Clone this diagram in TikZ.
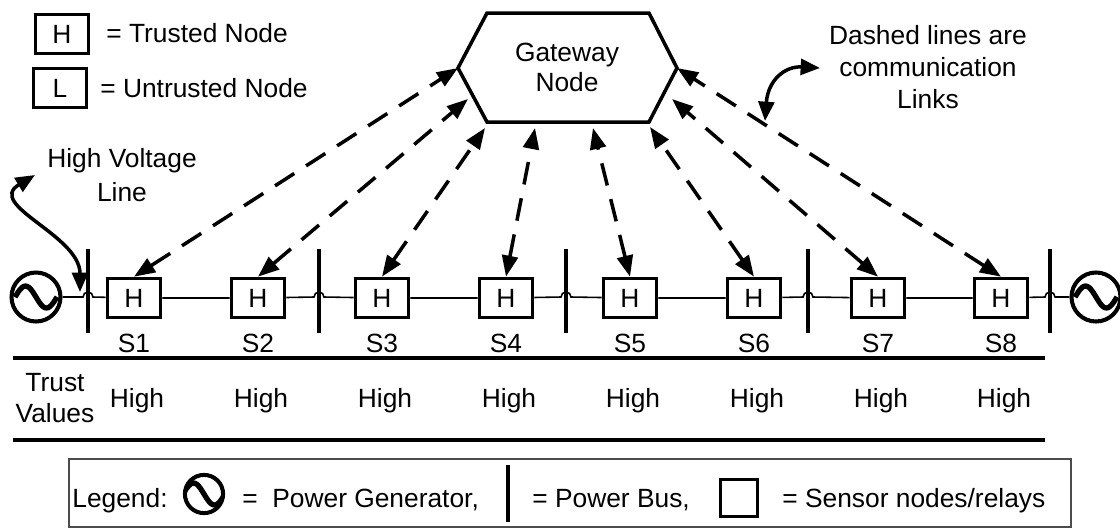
\documentclass[tikz,border=0pt]{standalone}
\usepackage{fontspec}
\setmainfont{Liberation Sans}
\usetikzlibrary{arrows.meta,calc}

\begin{document}
\begin{tikzpicture}[
x=0.02cm,y=-0.02cm,inner sep=0pt,
font=\fontsize{15}{18}\selectfont,
sensor/.style={draw,fill=white,line width=1.8pt,minimum width=1.07cm,minimum height=0.79cm},
gen/.style={circle,draw,line width=2.3pt,minimum size=#1*0.98cm,
  path picture={\draw[line width=3pt,shift={(path picture bounding box.center)},scale=#1]
    plot[smooth,domain=-21:21,samples=25] (\x,{11*sin(8.6*\x)});}},
gen/.default=1,
busbar/.style={line width=1.8pt},
bus/.style={line width=0.9pt},
hexa/.style={draw,line width=2pt},
link/.style={line width=2pt,dash pattern=on 13pt off 8pt,
  {Triangle[length=12pt,width=9pt]}-{Triangle[length=12pt,width=9pt]}},
note/.style={line width=2pt,
  {Triangle[length=11pt,width=9pt]}-{Triangle[length=11pt,width=9pt]}},
tline/.style={line width=2.2pt},
legbox/.style={draw=black!70,line width=0.9pt},
]
\useasboundingbox (0,0) rectangle (1120,529);

% key
\node[sensor,minimum width=1.05cm,minimum height=0.77cm] (keyh) at (62,34) {H};
\node[anchor=base west] (keyht) at (106,42) {= Trusted Node};
\node[sensor,minimum width=1.05cm,minimum height=0.77cm] (keyl) at (60,88) {L};
\node[anchor=base west] (keylt) at (100,97) {= Untrusted Node};

% gateway
\draw[hexa] (458,68) -- (487,13) -- (649,13) -- (677,68) -- (649,122) -- (487,122) -- cycle;
\node[align=center,font=\fontsize{15}{17}\selectfont] (gw) at (567,67) {Gateway\\Node};
\coordinate (gwA) at (458,68);
\coordinate (gwB) at (468,99);
\coordinate (gwC) at (485,128);
\coordinate (gwD) at (535,128);
\coordinate (gwE) at (593,128);
\coordinate (gwF) at (650,127);
\coordinate (gwG) at (672,99);
\coordinate (gwH) at (677,68);

% power line
\node[gen] (gl) at (36,297) {};
\node[gen] (gr) at (1096,297) {};
\foreach \i/\x in {1/88,2/319,3/566,4/808,5/1050}{
  \coordinate (b\i) at (\x,297);
  \draw[busbar] (\x,249) -- (\x,333);
}
\foreach \i/\x in {1/134,2/258,3/382,4/506,5/630,6/754,7/878,8/1001}{
  \node[sensor] (s\i) at (\x,298) {H};
  \node[anchor=base] (sl\i) at (\x,352) {S\i};
  \node[anchor=base] (tv\i) at (\x+3,407) {High};
}
\draw[bus] (gl) -- ($(b1)+(-5,0)$) arc[start angle=180,end angle=360,radius=5] -- (s1)
  (s1) -- (s2) -- ($(b2)+(-5,0)$) arc[start angle=180,end angle=360,radius=5] -- (s3)
  (s3) -- (s4) -- ($(b3)+(-5,0)$) arc[start angle=180,end angle=360,radius=5] -- (s5)
  (s5) -- (s6) -- ($(b4)+(-5,0)$) arc[start angle=180,end angle=360,radius=5] -- (s7)
  (s7) -- (s8) -- ($(b5)+(-5,0)$) arc[start angle=180,end angle=360,radius=5] -- (gr);

% links
\foreach \s/\g in {1/A,2/B,3/C,4/D,5/E,6/F,7/G,8/H}
  \draw[link] (s\s.north) -- (gw\g);

% notes
\node[align=center,font=\fontsize{15}{19.3}\selectfont] (hv) at (122,175) {High Voltage\\Line};
\coordinate (hvtip) at (35,175);
\coordinate (hvbus) at (80,292);
\draw[note] (hvtip) .. controls (-15,205) and (80,235) .. (hvbus);
\node[align=center,font=\fontsize{15}{18.4}\selectfont] (cm) at (928,67) {Dashed lines are\\communication\\Links};
\coordinate (cmtip) at (820,68);
\coordinate (cmlink) at (765,121);
\draw[note] (cmtip) .. controls (785,66) and (768,80) .. (cmlink);

% trust table
\draw[tline] (13,358) -- (1045,358);
\draw[tline] (13,440) -- (1045,440);
\node[align=center] (tv) at (55,398) {Trust\\Values};

% legend
\draw[legbox] (69,459) rectangle (1071,527);
\node[anchor=base west] (lg) at (72,507) {Legend:};
\node[gen=0.78] (lgen) at (204,494) {};
\node[anchor=base west] (lgeq) at (242,507) {=};
\node[anchor=base west] (lgpg) at (272,507) {Power Generator,};
\draw[busbar] (508,465) -- (508,522);
\node[anchor=base west] (lgpb) at (532,507) {= Power Bus,};
\node[sensor,minimum width=0.73cm,minimum height=0.73cm] (lgs) at (739,498) {};
\node[anchor=base west] (lgsn) at (782,507) {= Sensor nodes/relays};
\end{tikzpicture}
\end{document}
